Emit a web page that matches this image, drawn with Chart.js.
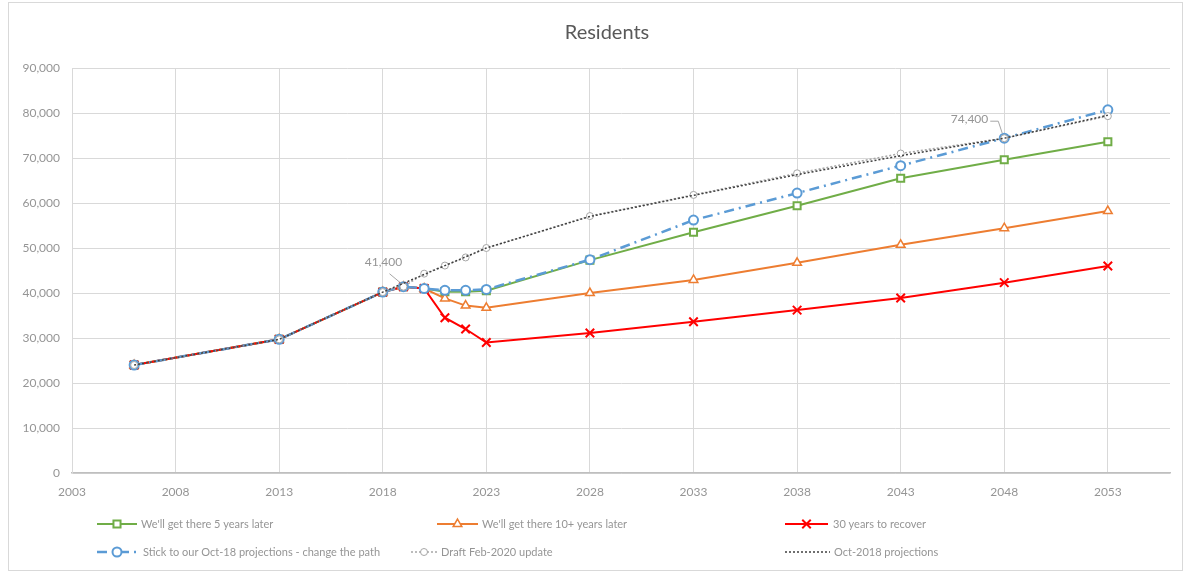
<!DOCTYPE html>
<html>
<head>
<meta charset="utf-8">
<title>Residents</title>
<script src="https://cdn.jsdelivr.net/npm/chart.js@4/dist/chart.umd.min.js"></script>
<style>
    html, body { margin: 0; padding: 0; background: #fff; }
    #wrap { position: relative; width: 1191px; height: 573px; }
    #frame { position: absolute; left: 8px; top: 2px; width: 1173px; height: 567px; border: 1px solid #d9d9d9; }
    #chart-residents { position: absolute; left: 0; top: 0; }
</style>
</head>
<body>
<div id="wrap">
    <div id="frame"></div>
    <canvas id="chart-residents" width="1191" height="573"></canvas>
</div>
<script>
// Years shared by the scenario series
const years = [2006, 2013, 2018, 2019, 2020, 2021, 2022, 2023, 2028, 2033, 2038, 2043, 2048, 2053];
// Oct-2018 projections only has 5-yearly points after 2018
const yearsOct18 = [2006, 2013, 2018, 2023, 2028, 2033, 2038, 2043, 2048, 2053];

const fiveYearsLater = [24000, 29700, 40200, 41400, 41000, 40300, 40300, 40500, 47300, 53500, 59400, 65500, 69600, 73600];
const tenYearsLater  = [24000, 29700, 40200, 41400, 41000, 38800, 37200, 36700, 40000, 42900, 46700, 50700, 54400, 58200];
const thirtyYears    = [24000, 29700, 40200, 41400, 41000, 34500, 32000, 29000, 31100, 33600, 36200, 38900, 42300, 46000];
const stickToOct18   = [24000, 29700, 40200, 41400, 41000, 40600, 40600, 40800, 47400, 56200, 62200, 68300, 74400, 80700];
const draftFeb2020   = [24000, 29700, 40200, 41400, 44300, 46100, 47900, 50000, 57100, 61800, 66600, 71000, 74400, 79300];
const oct2018        = [24000, 29700, 40200, 50000, 57000, 61700, 66300, 70500, 74400, 79500];

const xTicks = [2003, 2008, 2013, 2018, 2023, 2028, 2033, 2038, 2043, 2048, 2053];
const yTicks = [0, 10000, 20000, 30000, 40000, 50000, 60000, 70000, 80000, 90000];

const chartTitle = 'Residents';
const seriesLabels = [
    "We'll get there 5 years later",
    "We'll get there 10+ years later",
    '30 years to recover',
    'Stick to our Oct-18 projections - change the path',
    'Draft Feb-2020 update',
    'Oct-2018 projections'
];

// Callouts shown on the chart
const callouts = [
    { year: 2019, value: 41400, text: '41,400' },
    { year: 2048, value: 74400, text: '74,400' }
];

const FONT = 'Lato, "Open Sans", sans-serif';
const GREY_TXT = '#959595';

const toPoints = (xs, ys) => xs.map((x, i) => ({ x: x, y: ys[i] }));

// Legend drawn Excel-style: line sample + marker, at fixed slots
const legendSlots = [
    { x0: 97,  x1: 137, tx: 141, y: 524 },
    { x0: 437, x1: 478, tx: 482, y: 524 },
    { x0: 785, x1: 828, tx: 833, y: 524 },
    { x0: 97,  x1: 137, tx: 143, y: 552 },
    { x0: 411, x1: 437, tx: 441, y: 552 },
    { x0: 785, x1: 830, tx: 834, y: 552 }
];

const excelLegend = {
    id: 'excelLegend',
    afterDraw(chart) {
        const ctx = chart.ctx;
        chart.data.datasets.forEach((ds, i) => {
            const s = legendSlots[i];
            ctx.save();
            ctx.strokeStyle = ds.borderColor;
            ctx.lineWidth = ds.borderWidth;
            ctx.setLineDash(ds.borderDash || []);
            ctx.beginPath();
            ctx.moveTo(s.x0, s.y);
            ctx.lineTo(s.x1, s.y);
            ctx.stroke();
            ctx.setLineDash([]);
            if (ds.pointRadius > 0) {
                ctx.fillStyle = ds.pointBackgroundColor;
                ctx.strokeStyle = ds.pointBorderColor;
                ctx.lineWidth = ds.pointBorderWidth;
                Chart.helpers.drawPoint(ctx, {
                    pointStyle: ds.pointStyle,
                    radius: ds.pointRadius,
                    borderWidth: ds.pointBorderWidth,
                    rotation: 0
                }, (s.x0 + s.x1) / 2, s.y);
            }
            ctx.fillStyle = GREY_TXT;
            ctx.font = '11px ' + FONT;
            ctx.textBaseline = 'middle';
            ctx.textAlign = 'left';
            ctx.fillText(ds.label, s.tx, s.y);
            ctx.restore();
        });
    }
};

// Title centred on the whole chart box (Excel style), not on the padded area
const excelTitle = {
    id: 'excelTitle',
    afterDraw(chart) {
        const ctx = chart.ctx;
        ctx.save();
        ctx.font = '20px ' + FONT;
        ctx.fillStyle = '#595959';
        ctx.textAlign = 'center';
        ctx.textBaseline = 'middle';
        ctx.fillText(chartTitle, 607, 33);
        ctx.restore();
    }
};

const calloutPlugin = {
    id: 'callouts',
    afterDatasetsDraw(chart) {
        const ctx = chart.ctx;
        const sx = chart.scales.x, sy = chart.scales.y;
        ctx.save();
        ctx.font = '12px ' + FONT;
        ctx.fillStyle = GREY_TXT;
        ctx.strokeStyle = '#a6a6a6';
        ctx.lineWidth = 1;
        ctx.textBaseline = 'middle';

        // 41,400 : label up-left, straight leader
        let px = sx.getPixelForValue(callouts[0].year);
        let py = sy.getPixelForValue(callouts[0].value);
        ctx.beginPath();
        ctx.moveTo(px - 2, py - 3);
        ctx.lineTo(px - 14, py - 13);
        ctx.stroke();
        ctx.textAlign = 'center';
        ctx.fillText(callouts[0].text, px - 20, py - 25);

        // 74,400 : label to the left, bent leader
        px = sx.getPixelForValue(callouts[1].year);
        py = sy.getPixelForValue(callouts[1].value);
        ctx.beginPath();
        ctx.moveTo(px - 14, py - 17);
        ctx.lineTo(px - 6, py - 17);
        ctx.lineTo(px - 2, py - 5);
        ctx.stroke();
        ctx.textAlign = 'right';
        ctx.fillText(callouts[1].text, px - 16, py - 19);
        ctx.restore();
    }
};

const ctxRes = document.getElementById('chart-residents').getContext('2d');

// 'order': lower draws on top, so later series sit above earlier ones like in Excel
new Chart(ctxRes, {
    type: 'line',
    data: {
        datasets: [{
            label: seriesLabels[0],
            data: toPoints(years, fiveYearsLater),
            order: 6,
            borderColor: '#70ad47',
            borderWidth: 2,
            pointStyle: 'rect',
            pointRadius: 5,
            pointBorderWidth: 2,
            pointBorderColor: '#70ad47',
            pointBackgroundColor: '#ffffff'
        }, {
            label: seriesLabels[1],
            data: toPoints(years, tenYearsLater),
            order: 5,
            borderColor: '#ed7d31',
            borderWidth: 2,
            pointStyle: 'triangle',
            pointRadius: 5,
            pointBorderWidth: 1.5,
            pointBorderColor: '#ed7d31',
            pointBackgroundColor: '#ffffff'
        }, {
            label: seriesLabels[2],
            data: toPoints(years, thirtyYears),
            order: 4,
            borderColor: '#ff0000',
            borderWidth: 2,
            pointStyle: 'crossRot',
            pointRadius: 6,
            pointBorderWidth: 2,
            pointBorderColor: '#ff0000',
            pointBackgroundColor: '#ff0000'
        }, {
            label: seriesLabels[3],
            data: toPoints(years, stickToOct18),
            order: 3,
            borderColor: '#5b9bd5',
            borderWidth: 2.5,
            borderDash: [10, 5, 2, 5],
            pointStyle: 'circle',
            pointRadius: 4.5,
            pointBorderWidth: 2,
            pointBorderColor: '#5b9bd5',
            pointBackgroundColor: '#ffffff'
        }, {
            label: seriesLabels[4],
            data: toPoints(years, draftFeb2020),
            order: 2,
            borderColor: '#a6a6a6',
            borderWidth: 1.5,
            borderDash: [2, 2],
            pointStyle: 'circle',
            pointRadius: 3.5,
            pointBorderWidth: 1,
            pointBorderColor: '#a6a6a6',
            pointBackgroundColor: '#ffffff'
        }, {
            label: seriesLabels[5],
            data: toPoints(yearsOct18, oct2018),
            order: 1,
            borderColor: '#404040',
            borderWidth: 1.5,
            borderDash: [2, 2],
            pointStyle: 'circle',
            pointRadius: 0,
            pointBorderWidth: 0,
            pointBorderColor: '#404040',
            pointBackgroundColor: '#404040'
        }]
    },
    options: {
        responsive: false,
        animation: false,
        layout: { padding: { left: 10, right: 21, top: 68, bottom: 68 } },
        plugins: {
            legend: { display: false },
            tooltip: { enabled: false },
            title: { display: false }
        },
        scales: {
            x: {
                type: 'linear',
                min: 2003,
                max: 2056,
                afterBuildTicks: s => { s.ticks = xTicks.map(v => ({ value: v })); },
                afterFit: s => { s.height = 32; },
                grid: { color: '#d9d9d9', drawTicks: false },
                border: { color: '#bfbfbf', width: 1.5 },
                ticks: {
                    color: GREY_TXT,
                    font: { family: FONT, size: 12 },
                    padding: 12,
                    maxRotation: 0,
                    callback: v => String(v)
                }
            },
            y: {
                min: 0,
                max: 90000,
                afterBuildTicks: s => { s.ticks = yTicks.map(v => ({ value: v })); },
                afterFit: s => { s.width = 62; },
                grid: { color: '#d9d9d9', drawTicks: false },
                border: { color: '#d9d9d9' },
                ticks: {
                    color: GREY_TXT,
                    font: { family: FONT, size: 12 },
                    padding: 12,
                    callback: v => v.toLocaleString('en-US')
                }
            }
        }
    },
    plugins: [calloutPlugin, excelLegend, excelTitle]
});
</script>
</body>
</html>
